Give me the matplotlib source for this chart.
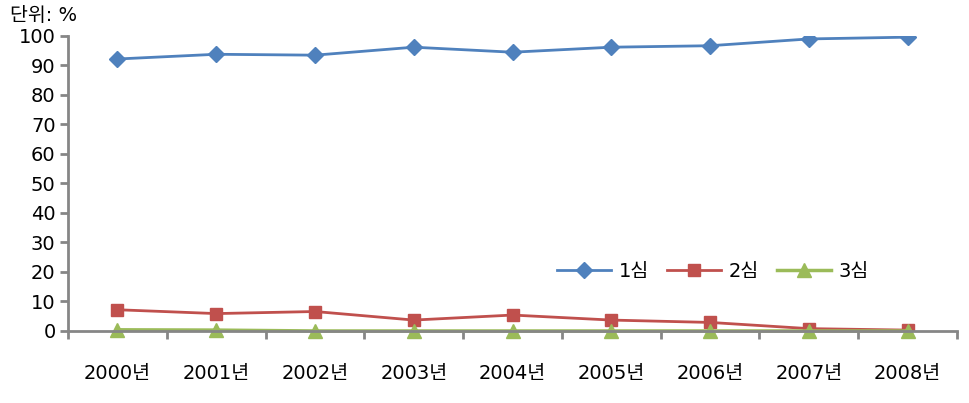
import numpy as np
import matplotlib
matplotlib.use("Agg")
import matplotlib.pyplot as plt

plt.rcParams['font.family'] = ['DejaVu Sans', 'Noto Sans CJK KR']

years = ["2000년", "2001년", "2002년", "2003년", "2004년", "2005년", "2006년", "2007년", "2008년"]
first = [92.2, 93.8, 93.5, 96.2, 94.5, 96.2, 96.7, 99.0, 99.6]
second = [7.2, 5.9, 6.6, 3.7, 5.4, 3.7, 2.9, 0.8, 0.3]
third = [0.4, 0.3, 0.0, 0.0, 0.0, 0.0, 0.0, 0.0, 0.0]

fig = plt.figure(figsize=(9.69, 4.03), dpi=100)
ax = fig.add_axes([0.0702, 0.1787, 0.9174, 0.732])

x = np.arange(len(years))
ax.plot(x, first, color="#4F81BD", lw=2, marker="D", ms=8, label="1심")
ax.plot(x, second, color="#C0504D", lw=2, marker="s", ms=9, label="2심")
ax.plot(x, third, color="#9BBB59", lw=2.5, marker="^", ms=10, label="3심", clip_on=False)

ax.set_xlim(-0.5, len(years) - 0.5)
ax.set_ylim(0, 100)
ax.set_yticks(range(0, 101, 10))
ax.set_xticks(np.arange(-0.5, len(years)), minor=False)
ax.set_xticklabels([])
ax.set_xticks(x, minor=True)
ax.set_xticklabels(years, minor=True, fontsize=14)
ax.tick_params(axis="x", which="major", length=6, width=2, color="#868686", direction="out")
ax.tick_params(axis="x", which="minor", length=0, pad=24)
ax.tick_params(axis="y", length=6, width=2, color="#868686", direction="out", labelsize=14, pad=3)

for s in ["top", "right"]:
    ax.spines[s].set_visible(False)
for s in ["left", "bottom"]:
    ax.spines[s].set_color("#868686")
    ax.spines[s].set_linewidth(2)

ax.legend(loc="center", bbox_to_anchor=(6.03, 20.3), bbox_transform=ax.transData, ncol=3,
          frameon=False, fontsize=14, handlelength=2.8, columnspacing=0.9, handletextpad=0.4)

fig.text(0.01, 0.985, "단위: %", fontsize=14, va="top")

fig.savefig("out.png", dpi=100)
